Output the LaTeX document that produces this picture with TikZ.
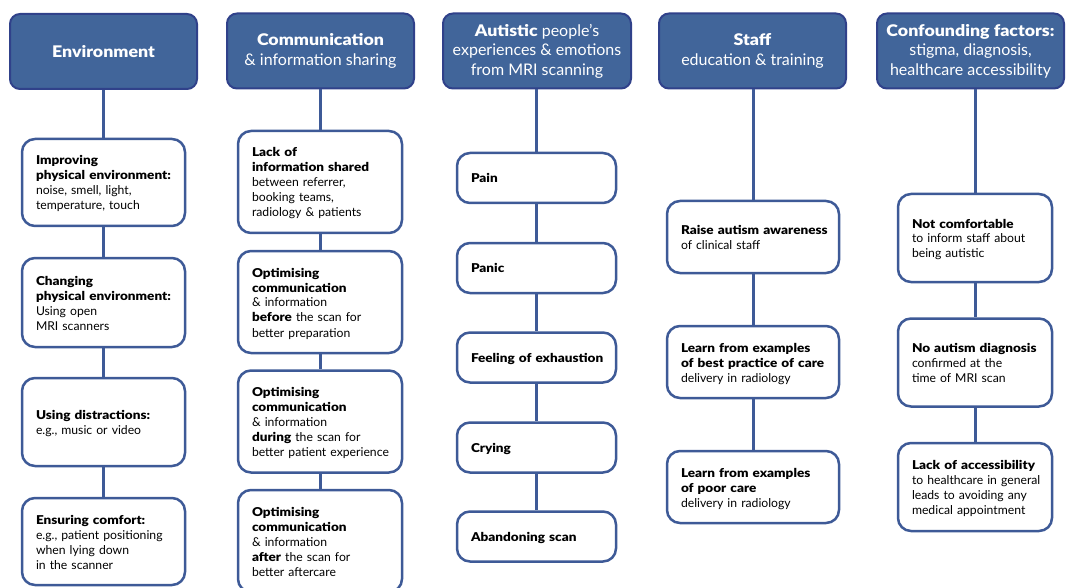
\documentclass[tikz,border=0pt]{standalone}
\usepackage{fontspec}
\setmainfont{Lato}[BoldFont={Lato Black}, BoldFeatures={FakeStretch=1.11}]
\definecolor{hdrfill}{HTML}{41659A}
\definecolor{hdredge}{HTML}{30418A}
\definecolor{boxedge}{HTML}{3E5A97}
\newcommand{\boxlines}[1]{\raisebox{-2pt}[\height][\depth]{\begin{tabular}{@{}l@{}}#1\end{tabular}}}
\tikzset{
  hdr/.style={draw=hdredge, fill=hdrfill, line width=2pt, rounded corners=10pt,
    minimum width=187pt, minimum height=75pt, text=white, align=center,
    font=\fontsize{16}{19.5}\selectfont, inner sep=0pt},
  item/.style={draw=boxedge, fill=white, line width=2.5pt, rounded corners=13pt,
    align=left, inner xsep=14pt, inner ysep=0pt,
    font=\fontsize{12.2}{15}\selectfont},
  envbox/.style={item, text width=135pt},
  combox/.style={item, text width=136pt, minimum height=102pt},
  expbox/.style={item, text width=131pt, minimum height=50pt},
  stfbox/.style={item, text width=144pt, minimum height=72pt},
  cfbox/.style={item, text width=126pt, minimum height=88pt},
  link/.style={draw=boxedge, line width=3pt}
}
\begin{document}
\begin{tikzpicture}[x=1pt,y=-1pt]
\useasboundingbox (0,0) rectangle (1068,588);
\clip (0,0) rectangle (1068,588);
% headers
\node[hdr] (h1) at (103.5,51.5) {\textbf{Environment}};
\node[hdr] (h2) at (320.5,51) {\textbf{Communication}\\\& information sharing};
\node[hdr, minimum width=188pt] (h3) at (537,51) {\textbf{Autistic} people's\\experiences \& emotions\\from MRI scanning};
\node[hdr] (h4) at (752.5,51) {\textbf{Staff}\\education \& training};
\node[hdr] (h5) at (970.5,51) {\textbf{Confounding factors:}\\stigma, diagnosis,\\healthcare accessibility};
% Environment
\node[envbox, minimum height=87pt] (e1) at (103.5,182.5) {\boxlines{\textbf{Improving}\\\textbf{physical environment:}\\noise, smell, light,\\temperature, touch}};
\node[envbox, minimum height=89pt] (e2) at (103.5,302.5) {\boxlines{\textbf{Changing}\\\textbf{physical environment:}\\Using open\\MRI scanners}};
\node[envbox, minimum height=88pt] (e3) at (103.5,422) {\boxlines{\textbf{Using distractions:}\\e.g., music or video}};
\node[envbox, minimum height=87pt] (e4) at (103.5,541.5) {\boxlines{\textbf{Ensuring comfort:}\\e.g., patient positioning\\when lying down\\in the scanner}};
% Communication
\node[combox] (c1) at (320,182) {\boxlines{\textbf{Lack of}\\\textbf{information shared}\\between referrer,\\booking teams,\\radiology \& patients}};
\node[combox] (c2) at (320,302) {\boxlines{\textbf{Optimising}\\\textbf{communication}\\\& information\\\textbf{before} the scan for\\better preparation}};
\node[combox] (c3) at (320,421.5) {\boxlines{\textbf{Optimising}\\\textbf{communication}\\\& information\\\textbf{during} the scan for\\better patient experience}};
\node[combox] (c4) at (320,541) {\boxlines{\textbf{Optimising}\\\textbf{communication}\\\& information\\\textbf{after} the scan for\\better aftercare}};
% Experiences
\node[expbox] (x1) at (536.5,178) {\boxlines{\textbf{Pain}}};
\node[expbox] (x2) at (536.5,268) {\boxlines{\textbf{Panic}}};
\node[expbox] (x3) at (536.5,357.5) {\boxlines{\textbf{Feeling of exhaustion}}};
\node[expbox] (x4) at (536.5,447.5) {\boxlines{\textbf{Crying}}};
\node[expbox] (x5) at (536.5,536.5) {\boxlines{\textbf{Abandoning scan}}};
% Staff
\node[stfbox] (s1) at (753,237) {\boxlines{\textbf{Raise autism awareness}\\of clinical staff}};
\node[stfbox] (s2) at (753,362) {\boxlines{\textbf{Learn from examples}\\\textbf{of best practice of care}\\delivery in radiology}};
\node[stfbox] (s3) at (753,487) {\boxlines{\textbf{Learn from examples}\\\textbf{of poor care}\\delivery in radiology}};
% Confounding
\node[cfbox] (f1) at (975,238) {\boxlines{\textbf{Not comfortable}\\to inform staff about\\being autistic}};
\node[cfbox] (f2) at (975,362.5) {\boxlines{\textbf{No autism diagnosis}\\confirmed at the\\time of MRI scan}};
\node[cfbox] (f3) at (975,487) {\boxlines{\textbf{Lack of accessibility}\\to healthcare in general\\leads to avoiding any\\medical appointment}};
% connectors
\draw[link] (h1.south) -- (e1.north);
\draw[link] (e1.south) -- (e2.north);
\draw[link] (e2.south) -- (e3.north);
\draw[link] (e3.south) -- (e4.north);
\draw[link] (c1.north |- h2.south) -- (c1.north);
\draw[link] (c1.south) -- (c2.north);
\draw[link] (c2.south) -- (c3.north);
\draw[link] (c3.south) -- (c4.north);
\draw[link] (x1.north |- h3.south) -- (x1.north);
\draw[link] (x1.south) -- (x2.north);
\draw[link] (x2.south) -- (x3.north);
\draw[link] (x3.south) -- (x4.north);
\draw[link] (x4.south) -- (x5.north);
\draw[link] (s1.north |- h4.south) -- (s1.north);
\draw[link] (s1.south) -- (s2.north);
\draw[link] (s2.south) -- (s3.north);
\draw[link] (f1.north |- h5.south) -- (f1.north);
\draw[link] (f1.south) -- (f2.north);
\draw[link] (f2.south) -- (f3.north);
\end{tikzpicture}
\end{document}
